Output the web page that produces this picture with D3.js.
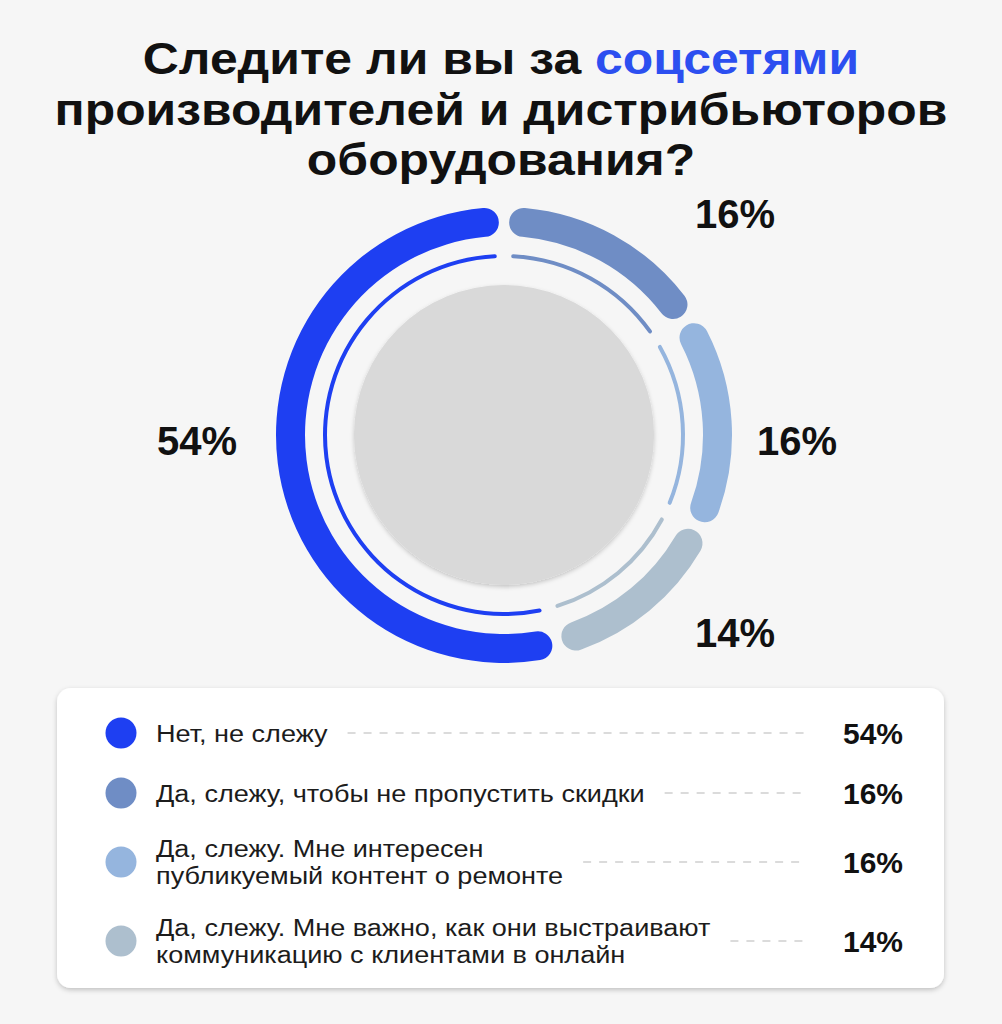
<!DOCTYPE html>
<html>
<head>
<meta charset="utf-8">
<script src="https://cdn.jsdelivr.net/npm/d3@7"></script>
<style>
  html, body { margin: 0; padding: 0; background: #f6f6f6; }
  svg { display: block; }
</style>
</head>
<body>
<svg id="chart" width="1002" height="1024"></svg>
<script>
// ---------- data ----------
const categories = [
  ["Нет, не слежу"],
  ["Да, слежу, чтобы не пропустить скидки"],
  ["Да, слежу. Мне интересен", "публикуемый контент о ремонте"],
  ["Да, слежу. Мне важно, как они выстраивают", "коммуникацию с клиентами в онлайн"]
];
const values = [54, 16, 16, 14];
const valueLabels = ["54%", "16%", "16%", "14%"];
const colors = ["#1e3ff2", "#6f8dc5", "#95b5de", "#adbfce"];
const titleLines = [
  [{t: "Следите ли вы за ", c: "#111"}, {t: "соцсетями", c: "#2c4ff0"}],
  [{t: "производителей и дистрибьюторов", c: "#111"}],
  [{t: "оборудования?", c: "#111"}]
];

// ---------- layout ----------
const W = 1002, H = 1024;
const FONT = "'Liberation Sans', Arial, Helvetica, sans-serif";
const svg = d3.select("#chart");
const defs = svg.append("defs");

const shadow = defs.append("filter").attr("id", "sh").attr("x", "-10%").attr("y", "-10%").attr("width", "120%").attr("height", "125%");
shadow.append("feDropShadow").attr("dx", 0).attr("dy", 2).attr("stdDeviation", 2).attr("flood-color", "#000").attr("flood-opacity", 0.2);
const shadow2 = defs.append("filter").attr("id", "sh2").attr("x", "-10%").attr("y", "-10%").attr("width", "120%").attr("height", "125%");
shadow2.append("feDropShadow").attr("dx", 0).attr("dy", 2).attr("stdDeviation", 2.5).attr("flood-color", "#000").attr("flood-opacity", 0.22);

// background
svg.append("rect").attr("width", W).attr("height", H).attr("fill", "#f6f6f6");

// ---------- title ----------
const titleCx = 501;
const titleBase = [74, 124.5, 175];
const titleSize = 45;
const title = svg.append("g").attr("font-family", FONT).attr("font-weight", 700);
const titleTexts = titleLines.map((line, i) => {
  const t = title.append("text")
    .attr("x", 0).attr("y", 0)
    .attr("text-anchor", "middle")
    .attr("font-size", titleSize);
  line.forEach(seg => t.append("tspan").attr("fill", seg.c).text(seg.t));
  return t;
});
// stretch glyphs horizontally so the longest line matches the reference width
const w2 = titleTexts[1].node().getComputedTextLength();
const kTitle = 893 / w2;
titleTexts.forEach((t, i) => t.attr("transform", `translate(${titleCx},${titleBase[i]}) scale(${kTitle},1)`));

// ---------- donut ----------
const cx = 504, cy = 435;
const pie = d3.pie().sort(null).value(d => d)
  .startAngle(2 * Math.PI * 0.46).endAngle(2 * Math.PI * 1.46);
const arcs = pie(values);

const outerArc = d3.arc().innerRadius(199).outerRadius(228).cornerRadius(14.5).padAngle(0.034);
const thinArc = d3.arc().innerRadius(177).outerRadius(181).cornerRadius(2).padRadius(200).padAngle(0.072);

const donut = svg.append("g").attr("transform", `translate(${cx},${cy})`);
donut.selectAll("path.outer").data(arcs).join("path")
  .attr("class", "outer").attr("d", outerArc).attr("fill", (d, i) => colors[i]);
donut.selectAll("path.thin").data(arcs).join("path")
  .attr("class", "thin").attr("d", thinArc).attr("fill", (d, i) => colors[i]);
donut.append("circle").attr("r", 150).attr("fill", "#d9d9d9").attr("filter", "url(#sh)");

// percentage labels around the donut (offsets from centre)
const labelOffsets = [[-307, 20], [231, -207], [293, 20], [231, 212]];
donut.selectAll("text.pl").data(arcs).join("text")
  .attr("class", "pl")
  .attr("x", (d, i) => labelOffsets[i][0])
  .attr("y", (d, i) => labelOffsets[i][1])
  .attr("text-anchor", "middle")
  .attr("font-family", FONT).attr("font-weight", 700).attr("font-size", 40)
  .attr("fill", "#111")
  .text((d, i) => valueLabels[i]);

// ---------- legend ----------
const box = {x: 57, y: 688, w: 887, h: 300};
svg.append("rect").attr("x", box.x).attr("y", box.y).attr("width", box.w).attr("height", box.h)
  .attr("rx", 14).attr("fill", "#fff").attr("filter", "url(#sh2)");

const rowY = [733, 793, 862, 941];
const lineH = 27.5;
const legSize = 24.5;
const dotX = 121, textX = 156, dashEnd = 805, valX = 903;
const legend = svg.append("g").attr("font-family", FONT);

const rows = legend.selectAll("g.row").data(categories).join("g").attr("class", "row");
rows.append("circle").attr("cx", dotX).attr("cy", (d, i) => rowY[i]).attr("r", 15.5)
  .attr("fill", (d, i) => colors[i]);
const labelTexts = rows.append("text").attr("font-size", legSize).attr("fill", "#1c1c1c");
labelTexts.each(function(lines, i) {
  const t = d3.select(this);
  lines.forEach((ln, k) => t.append("tspan").attr("x", 0)
    .attr("y", rowY[i] + (k - (lines.length - 1) / 2) * lineH + legSize * 0.35)
    .text(ln));
});
// horizontal stretch so row 2 matches its reference width
const row2 = labelTexts.filter((d, i) => i === 1).node();
const kLeg = 489 / row2.getComputedTextLength();
labelTexts.attr("transform", `translate(${textX},0) scale(${kLeg},1)`);

// dashed leaders
labelTexts.each(function(lines, i) {
  let maxW = 0;
  d3.select(this).selectAll("tspan").each(function() {
    maxW = Math.max(maxW, this.getComputedTextLength());
  });
  legend.append("line")
    .attr("x1", textX + maxW * kLeg + 20).attr("x2", dashEnd)
    .attr("y1", rowY[i]).attr("y2", rowY[i])
    .attr("stroke", "#cfcfcf").attr("stroke-width", 1.3)
    .attr("stroke-dasharray", "8,8");
});

rows.append("text").attr("x", valX).attr("y", (d, i) => rowY[i] + 10.5)
  .attr("text-anchor", "end").attr("font-weight", 700).attr("font-size", 30)
  .attr("fill", "#111").text((d, i) => valueLabels[i]);
</script>
</body>
</html>
